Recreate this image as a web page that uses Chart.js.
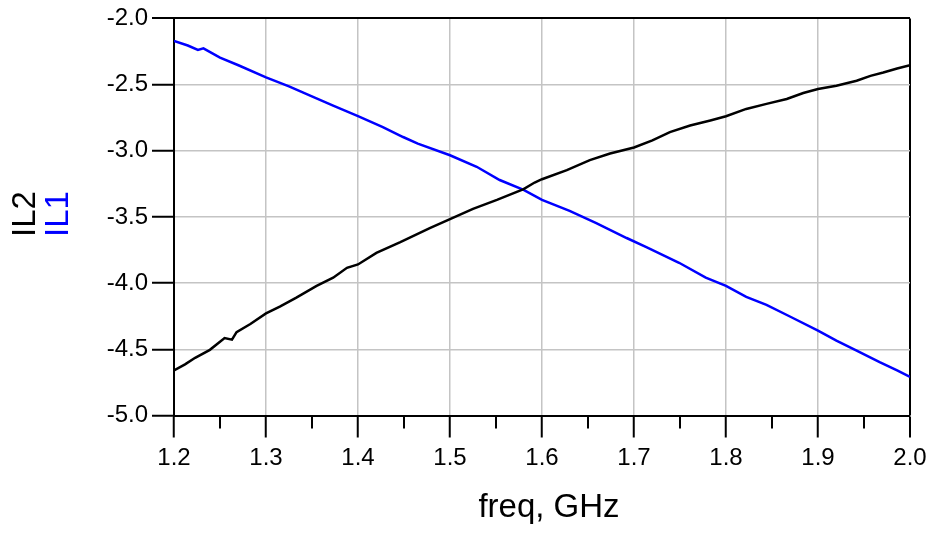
<!DOCTYPE html>
<html>
<head>
<meta charset="utf-8">
<script src="https://cdn.jsdelivr.net/npm/chart.js@4.4.1/dist/chart.umd.min.js"></script>
<style>
  html, body { margin: 0; padding: 0; background: #fff; }
  #chart { display: block; }
</style>
</head>
<body>
<canvas id="chart" width="933" height="537"></canvas>
<script>
// IL1 (blue)
const freqIL1 = [1.200, 1.215, 1.226, 1.232, 1.250, 1.270, 1.300, 1.325, 1.348, 1.373, 1.400, 1.427,
                 1.449, 1.465, 1.500, 1.529, 1.554, 1.580, 1.600, 1.630, 1.659, 1.692, 1.714, 1.749,
                 1.778, 1.800, 1.822, 1.844, 1.870, 1.900, 1.920, 1.942, 1.967, 1.986, 2.000];
const valIL1 = [-2.171, -2.205, -2.238, -2.226, -2.296, -2.354, -2.446, -2.514, -2.584, -2.659, -2.739, -2.821,
                -2.896, -2.946, -3.034, -3.121, -3.221, -3.296, -3.371, -3.454, -3.546, -3.659, -3.729, -3.846,
                -3.959, -4.021, -4.104, -4.164, -4.254, -4.359, -4.434, -4.509, -4.597, -4.659, -4.709];

// IL2 (black)
const freqIL2 = [1.200, 1.212, 1.223, 1.239, 1.255, 1.263, 1.268, 1.283, 1.300, 1.315, 1.333, 1.355,
                 1.373, 1.388, 1.400, 1.420, 1.446, 1.478, 1.500, 1.525, 1.551, 1.580, 1.592, 1.600,
                 1.627, 1.652, 1.674, 1.700, 1.720, 1.739, 1.761, 1.783, 1.800, 1.822, 1.844, 1.866,
                 1.884, 1.900, 1.920, 1.942, 1.957, 1.971, 1.986, 2.000];
const valIL2 = [-4.659, -4.614, -4.564, -4.504, -4.415, -4.427, -4.370, -4.309, -4.229, -4.177, -4.109, -4.021,
                -3.959, -3.884, -3.859, -3.771, -3.690, -3.584, -3.516, -3.439, -3.371, -3.290, -3.240, -3.215,
                -3.146, -3.071, -3.021, -2.975, -2.921, -2.859, -2.809, -2.771, -2.739, -2.684, -2.646, -2.609,
                -2.564, -2.534, -2.509, -2.471, -2.434, -2.409, -2.379, -2.354];

// axes
const xMin = 1.2, xMax = 2.0, xStep = 0.1;
const yMin = -5.0, yMax = -2.0, yStep = 0.5;
const minorTicksX = [1.25, 1.35, 1.45, 1.55, 1.65, 1.75, 1.85, 1.95];

const xTitle = 'freq, GHz';
const yTitles = [{ text: 'IL2', color: '#000000' }, { text: 'IL1', color: '#0000ff' }];

const FONT = '"Liberation Sans", Arial, sans-serif';
Chart.defaults.font.family = FONT;
Chart.defaults.color = '#000';

function toPts(xs, ys) {
    return xs.map((f, i) => ({ x: f, y: ys[i] }));
}

function near(a, b) {
    return Math.abs(a - b) < 1e-6;
}

// titres d'axes et petites graduations
const axisDecor = {
    id: 'axisDecor',
    afterDraw(chart) {
        const ctx = chart.ctx;
        const sx = chart.scales.x;
        const area = chart.chartArea;
        ctx.save();
        ctx.strokeStyle = '#000';
        ctx.lineWidth = 2;
        minorTicksX.forEach(v => {
            const px = Math.round(sx.getPixelForValue(v));
            ctx.beginPath();
            ctx.moveTo(px, area.bottom);
            ctx.lineTo(px, area.bottom + 13);
            ctx.stroke();
        });

        ctx.fillStyle = '#000';
        ctx.font = '33px ' + FONT;
        ctx.textAlign = 'center';
        ctx.textBaseline = 'alphabetic';
        ctx.fillText(xTitle, 549, 517);

        const baseX = [35, 68];
        yTitles.forEach((t, i) => {
            ctx.save();
            ctx.translate(baseX[i], 214);
            ctx.rotate(-Math.PI / 2);
            ctx.fillStyle = t.color;
            ctx.fillText(t.text, 0, 0);
            ctx.restore();
        });
        ctx.restore();
    }
};

const ctx = document.getElementById('chart').getContext('2d');
const chart = new Chart(ctx, {
    type: 'scatter',
    data: {
        datasets: [
            {
                label: 'IL2',
                data: toPts(freqIL2, valIL2),
                borderColor: '#000000',
                borderWidth: 2.5,
                showLine: true,
                pointRadius: 0,
                tension: 0
            },
            {
                label: 'IL1',
                data: toPts(freqIL1, valIL1),
                borderColor: '#0000ff',
                borderWidth: 2.5,
                showLine: true,
                pointRadius: 0,
                tension: 0
            }
        ]
    },
    options: {
        responsive: false,
        animation: false,
        devicePixelRatio: 1,
        layout: { padding: { top: 15.5, right: 23, bottom: 0, left: 0 } },
        plugins: {
            legend: { display: false },
            tooltip: { enabled: false }
        },
        scales: {
            x: {
                type: 'linear',
                min: xMin,
                max: xMax,
                afterFit(scale) { scale.height = 121.5; },
                ticks: {
                    stepSize: xStep,
                    padding: 6,
                    maxRotation: 0,
                    font: { size: 24 },
                    callback: v => v.toFixed(1)
                },
                grid: {
                    color: c => (c.tick && near(c.tick.value, xMax)) ? '#000' : '#c4c4c4',
                    lineWidth: c => (c.tick && near(c.tick.value, xMax)) ? 2 : 1.5,
                    tickColor: '#000',
                    tickWidth: 2,
                    tickLength: 22
                },
                border: { color: '#000', width: 2 }
            },
            y: {
                min: yMin,
                max: yMax,
                afterFit(scale) { scale.width = 174; },
                ticks: {
                    stepSize: yStep,
                    padding: 4,
                    font: { size: 24 },
                    callback: v => v.toFixed(1)
                },
                grid: {
                    color: c => (c.tick && near(c.tick.value, yMax)) ? '#000' : '#c4c4c4',
                    lineWidth: c => (c.tick && near(c.tick.value, yMax)) ? 2 : 1.5,
                    tickColor: '#000',
                    tickWidth: 2,
                    tickLength: 22
                },
                border: { color: '#000', width: 2 }
            }
        }
    },
    plugins: [axisDecor]
});
</script>
</body>
</html>
